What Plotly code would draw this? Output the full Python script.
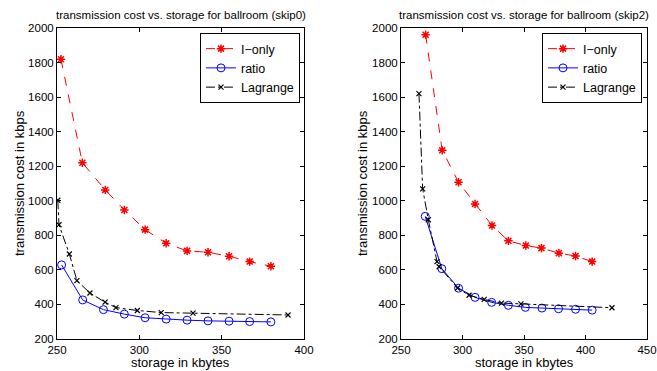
import plotly.graph_objects as go

# Left panel (skip0)
l_ionly_x = [252.4, 265.4, 279.3, 290.9, 303.5, 316.3, 329.0, 341.7, 354.5, 367.0, 379.9]
l_ionly_y = [1819, 1220, 1063, 947, 833, 754, 710, 702, 679, 648, 621]
l_ratio_x = [252.8, 265.6, 278.2, 290.9, 303.5, 316.3, 329.0, 341.7, 354.5, 367.0, 379.9]
l_ratio_y = [629, 426, 370, 344, 323, 315, 309, 305, 303, 301, 299]
l_lag_x = [250.5, 251.2, 257.5, 262.1, 270.0, 279.2, 285.8, 298.8, 313.3, 332.6, 390.3]
l_lag_y = [1003, 861, 692, 538, 466, 413, 382, 365, 353, 350, 339]

# Right panel (skip2)
r_ionly_x = [270.0, 283.5, 296.8, 310.2, 324.0, 337.3, 351.5, 364.2, 378.4, 391.9, 405.4]
r_ionly_y = [1961, 1292, 1107, 982, 857, 768, 741, 726, 697, 680, 648]
r_ratio_x = [269.7, 283.2, 296.8, 310.2, 323.7, 337.3, 351.1, 364.6, 378.1, 391.9, 405.4]
r_ratio_y = [910, 607, 494, 441, 412, 395, 383, 379, 375, 372, 367]
r_lag_x = [264.6, 267.6, 272.2, 279.3, 281.0, 296.0, 305.3, 317.6, 331.7, 347.5, 421.5]
r_lag_y = [1620, 1069, 890, 648, 618, 495, 453, 429, 408, 403, 381]

titles = ["transmission cost vs. storage for ballroom (skip0)",
          "transmission cost vs. storage for ballroom (skip2)"]
x_label = "storage in kbytes"
y_label = "transmission cost in kbps"
names = ["I\u2212only", "ratio", "Lagrange"]

W, H = 657, 371
FONT = "Liberation Sans, Arial, Helvetica, sans-serif"

fig = go.Figure()

panels = [
    (l_ionly_x, l_ionly_y, l_ratio_x, l_ratio_y, l_lag_x, l_lag_y, "x", "y", "legend"),
    (r_ionly_x, r_ionly_y, r_ratio_x, r_ratio_y, r_lag_x, r_lag_y, "x2", "y2", "legend2"),
]
for (ix, iy, rx, ry, gx, gy, xa, ya, lg) in panels:
    fig.add_trace(go.Scatter(x=ix, y=iy, name=names[0], mode="lines+markers",
                             xaxis=xa, yaxis=ya, legend=lg,
                             line=dict(color="#ff0000", width=1, dash="dash"),
                             marker=dict(symbol="asterisk-open", size=7,
                                         line=dict(color="#ff0000", width=1.5))))
    fig.add_trace(go.Scatter(x=rx, y=ry, name=names[1], mode="lines+markers",
                             xaxis=xa, yaxis=ya, legend=lg,
                             line=dict(color="#0000ff", width=1),
                             marker=dict(symbol="circle-open", size=8, color="#0000ff",
                                         line=dict(color="#0000ff", width=1))))
    fig.add_trace(go.Scatter(x=gx, y=gy, name=names[2], mode="lines+markers",
                             xaxis=xa, yaxis=ya, legend=lg,
                             line=dict(color="#000000", width=1, dash="dashdot"),
                             marker=dict(symbol="x-thin-open", size=5,
                                         line=dict(color="#000000", width=1.2))))

def px_x(p):
    return p / W

def px_y(p):
    return 1 - p / H

axis_common = dict(showgrid=False, zeroline=False, showline=True, linecolor="black",
                   linewidth=1, mirror="ticks", ticks="inside", ticklen=4,
                   tickcolor="black", automargin=False,
                   tickfont=dict(family=FONT, size=11.5, color="black"))

legend_common = dict(xanchor="right", yanchor="top",
                     bgcolor="white", bordercolor="black", borderwidth=1,
                     font=dict(family=FONT, size=12.5, color="black"),
                     tracegroupgap=0, itemwidth=30)

fig.update_layout(
    template="none",
    width=W, height=H,
    margin=dict(l=0, r=0, t=0, b=0, pad=0),
    plot_bgcolor="white", paper_bgcolor="white",
    font=dict(family=FONT, color="black"),
    showlegend=True,
    xaxis=dict(domain=[px_x(57), px_x(304)], range=[250, 400], tickvals=[250, 300, 350, 400],
               anchor="y", **axis_common),
    yaxis=dict(domain=[px_y(339), px_y(28)], range=[200, 2000],
               tickvals=[200, 400, 600, 800, 1000, 1200, 1400, 1600, 1800, 2000],
               anchor="x", **axis_common),
    xaxis2=dict(domain=[px_x(401), px_x(647)], range=[250, 450],
                tickvals=[250, 300, 350, 400, 450], anchor="y2", **axis_common),
    yaxis2=dict(domain=[px_y(339), px_y(28)], range=[200, 2000],
                tickvals=[200, 400, 600, 800, 1000, 1200, 1400, 1600, 1800, 2000],
                anchor="x2", **axis_common),
    legend=dict(x=px_x(300), y=px_y(33), **legend_common),
    legend2=dict(x=px_x(642), y=px_y(33), **legend_common),
)

annotations = [
    dict(text=titles[0], x=px_x(180.5), y=px_y(15), xref="paper", yref="paper",
         showarrow=False, font=dict(family=FONT, size=11.5, color="black"),
         xanchor="center", yanchor="middle"),
    dict(text=titles[1], x=px_x(524), y=px_y(15), xref="paper", yref="paper",
         showarrow=False, font=dict(family=FONT, size=11.5, color="black"),
         xanchor="center", yanchor="middle"),
    dict(text=x_label, x=px_x(180.5), y=px_y(362), xref="paper", yref="paper",
         showarrow=False, font=dict(family=FONT, size=13, color="black"),
         xanchor="center", yanchor="middle"),
    dict(text=x_label, x=px_x(524), y=px_y(362), xref="paper", yref="paper",
         showarrow=False, font=dict(family=FONT, size=13, color="black"),
         xanchor="center", yanchor="middle"),
    dict(text=y_label, x=px_x(19), y=px_y(183), xref="paper", yref="paper",
         showarrow=False, textangle=-90, font=dict(family=FONT, size=13, color="black"),
         xanchor="center", yanchor="middle"),
    dict(text=y_label, x=px_x(362), y=px_y(183), xref="paper", yref="paper",
         showarrow=False, textangle=-90, font=dict(family=FONT, size=13, color="black"),
         xanchor="center", yanchor="middle"),
]
fig.update_layout(annotations=annotations)

fig.write_html("out.html",
               config={"displayModeBar": False},
               post_script="document.body.style.margin='0';document.body.style.padding='0';"
                           "document.body.style.overflow='hidden';")
